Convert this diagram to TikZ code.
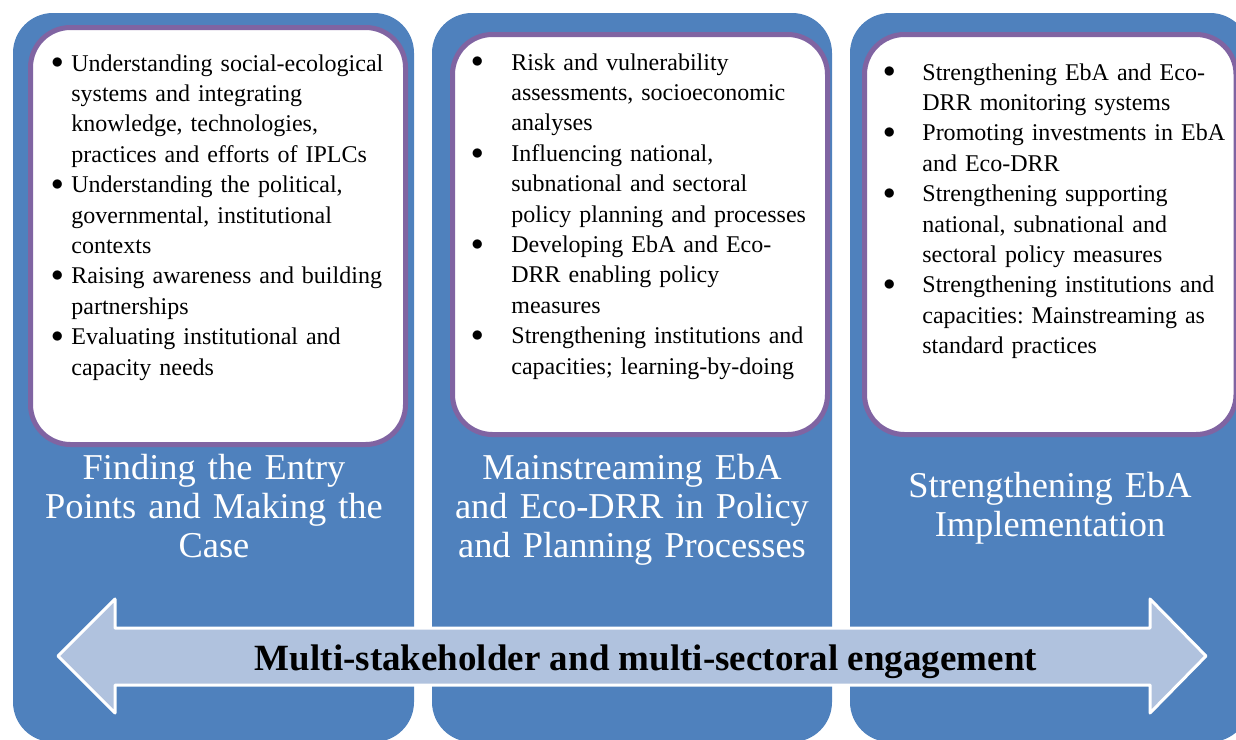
\documentclass[tikz,border=0pt]{standalone}
\usepackage{fontspec}
\setmainfont{Liberation Serif}
\usepackage{tikz}
\newcommand{\itembul}[1]{\leavevmode\llap{\raisebox{1.1pt}{$\bullet$}\hspace{#1}}}

\begin{document}
\frenchspacing
\begin{tikzpicture}[line join=round,x=0.5pt,y=-0.5pt]
\definecolor{colblue}{rgb}{0.310,0.506,0.741}
\definecolor{boxpurple}{rgb}{0.502,0.392,0.635}
\definecolor{arrowfill}{rgb}{0.690,0.761,0.871}
\tikzset{
  column/.style={fill=colblue,rounded corners=20pt},
  listbox/.style={draw=boxpurple,fill=white,line width=2.5pt,rounded corners=20pt},
  listtext/.style={anchor=base west,inner sep=0pt,text width=180pt,align=left,
    font=\fontsize{12}{15.2}\selectfont},
  coltitle/.style={anchor=base,inner sep=0pt,text width=195pt,align=center,text=white,
    font=\fontsize{18.2}{19.5}\selectfont}
}
\useasboundingbox (0,0) rectangle (1236,739);
\clip (0,0) rectangle (1236,739);

% three columns
\fill[column] (13,13) rectangle (414,742);
\fill[column] (432,13) rectangle (832,742);
\fill[column] (850,13) rectangle (1250,742);

% white boxes
\draw[listbox] (30.5,27.5) rectangle (405.5,444.5);
\draw[listbox] (452.5,34.5) rectangle (827.5,434.5);
\draw[listbox] (864.5,34.5) rectangle (1236,434.5);

\node[listtext] (listA) at (71,71) {%
\itembul{4pt}Understanding social-ecological\\
systems and integrating\\
knowledge, technologies,\\
practices and efforts of IPLCs\\
\itembul{4pt}Understanding the political,\\
governmental, institutional\\
contexts\\
\itembul{4pt}Raising awareness and building\\
partnerships\\
\itembul{4pt}Evaluating institutional and\\
capacity needs};

\node[listtext] (listB) at (511,70) {%
\itembul{14pt}Risk and vulnerability\\
assessments, socioeconomic\\
analyses\\
\itembul{14pt}Influencing national,\\
subnational and sectoral\\
policy planning and processes\\
\itembul{14pt}Developing EbA and Eco-\\
DRR enabling policy\\
measures\\
\itembul{14pt}Strengthening institutions and\\
capacities; learning-by-doing};

\node[listtext] (listC) at (922,80) {%
\itembul{13.5pt}Strengthening EbA and Eco-\\
DRR monitoring systems\\
\itembul{13.5pt}Promoting investments in EbA\\
and Eco-DRR\\
\itembul{13.5pt}Strengthening supporting\\
national, subnational and\\
sectoral policy measures\\
\itembul{13.5pt}Strengthening institutions and\\
capacities: Mainstreaming as\\
standard practices};

% column titles
\node[coltitle] (titleA) at (214,479) {Finding the Entry\\Points and Making the\\Case};
\node[coltitle] (titleB) at (632,479) {Mainstreaming EbA\\and Eco-DRR in Policy\\and Planning Processes};
\node[coltitle] (titleC) at (1050,497) {Strengthening EbA\\Implementation};

% double arrow
\draw[fill=arrowfill,draw=white,line width=1.5pt]
  (58,656) -- (115,599) -- (115,628) -- (1150,628) -- (1150,599) -- (1206,656)
  -- (1150,713) -- (1150,685) -- (115,685) -- (115,713) -- cycle;
\node[anchor=base,inner sep=0pt,font=\fontsize{18.5}{22}\selectfont\bfseries] (engage) at (646,670)
  {Multi-stakeholder and multi-sectoral engagement};
\end{tikzpicture}
\end{document}
